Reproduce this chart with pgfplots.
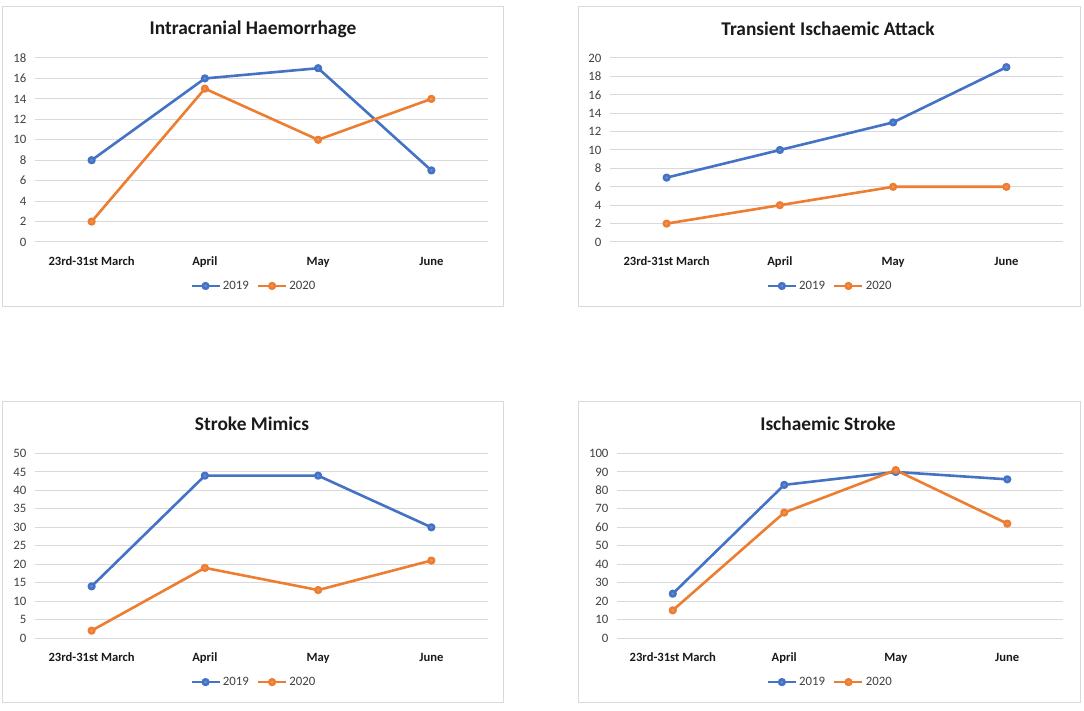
\documentclass[border=0pt]{standalone}
\usepackage{pgfplots}
\pgfplotsset{compat=1.18}
\usepackage{fontspec}
\setmainfont{Carlito}
\definecolor{c19}{HTML}{4472C4}
\definecolor{c20}{HTML}{ED7D31}
\definecolor{gridgray}{HTML}{D9D9D9}
\definecolor{labelc}{HTML}{404040}
\definecolor{titlec}{HTML}{1A1A1A}
\pgfplotsset{
 panel/.style={
  scale only axis, width=453pt, height=184pt,
  xmin=-0.5, xmax=3.5, ymin=0,
  xtick={0,1,2,3}, xticklabels={23rd-31st March, April, May, June},
  axis line style={draw=none}, tick style={draw=none},
  ymajorgrids, major grid style={line width=1pt, color=gridgray},
  xticklabel style={font=\bfseries\fontsize{12.6}{14}\selectfont, text=titlec, yshift=-11pt, text height=9pt, text depth=3pt},
  yticklabel style={font=\fontsize{12.8}{14}\selectfont, text=labelc, xshift=-5pt},
  /pgf/number format/assume math mode=true,
  legend columns=2,
  legend style={draw=none, fill=none, font=\fontsize{12.8}{14}\selectfont, text=labelc, anchor=center,
    /tikz/every even column/.append style={column sep=6pt}},
  legend image code/.code={\draw[##1, mark repeat=2, mark phase=2] plot coordinates {(0pt,0pt) (14pt,0pt) (28pt,0pt)};},
  every axis plot/.append style={line width=2.6pt, line join=round, mark=*, mark size=2.8pt, mark options={line width=0.6pt}},
  clip=false,
 },
 s19/.style={color=c19, mark options={fill=c19!80!white, draw=c19}},
 s20/.style={color=c20, mark options={fill=c20!80!white, draw=c20}},
}
\begin{document}
\begin{tikzpicture}
\path (0pt,0pt) rectangle (1084pt,710pt);
% panel boxes
\draw[gridgray, line width=1pt] (2pt,403pt) rectangle (503pt,703pt);
\draw[gridgray, line width=1pt] (578pt,403pt) rectangle (1080pt,703pt);
\draw[gridgray, line width=1pt] (2pt,8pt) rectangle (503pt,308pt);
\draw[gridgray, line width=1pt] (578pt,8pt) rectangle (1080pt,308pt);
% titles
\node[font=\bfseries\fontsize{19.4}{22}\selectfont, text=titlec] at (253pt,681pt) {Intracranial Haemorrhage};
\node[font=\bfseries\fontsize{19.4}{22}\selectfont, text=titlec] at (828pt,681pt) {Transient Ischaemic Attack};
\node[font=\bfseries\fontsize{19.4}{22}\selectfont, text=titlec] at (252pt,286pt) {Stroke Mimics};
\node[font=\bfseries\fontsize{19.4}{22}\selectfont, text=titlec] at (828pt,286pt) {Ischaemic Stroke};

% Top-left
\begin{axis}[panel, at={(35pt,468pt)}, anchor=south west, ymax=18, ytick={0,2,...,18},
  legend style={at={(rel axis cs:0.483,-0.239)}}]
\addplot[s19] coordinates {(0,8) (1,16) (2,17) (3,7)};
\addplot[s20] coordinates {(0,2) (1,15) (2,10) (3,14)};
\legend{2019,2020}
\end{axis}

% Top-right
\begin{axis}[panel, at={(610pt,468pt)}, anchor=south west, ymax=20, ytick={0,2,...,20},
  legend style={at={(rel axis cs:0.486,-0.239)}}]
\addplot[s19] coordinates {(0,7) (1,10) (2,13) (3,19)};
\addplot[s20] coordinates {(0,2) (1,4) (2,6) (3,6)};
\legend{2019,2020}
\end{axis}

% Bottom-left
\begin{axis}[panel, at={(35pt,72pt)}, anchor=south west, height=184.5pt, ymax=50, ytick={0,5,...,50},
  legend style={at={(rel axis cs:0.483,-0.239)}}]
\addplot[s19] coordinates {(0,14) (1,44) (2,44) (3,30)};
\addplot[s20] coordinates {(0,2) (1,19) (2,13) (3,21)};
\legend{2019,2020}
\end{axis}

% Bottom-right
\begin{axis}[panel, at={(617pt,72pt)}, anchor=south west, width=446pt, height=184.5pt, ymax=100, ytick={0,10,...,100},
  legend style={at={(rel axis cs:0.478,-0.239)}}]
\addplot[s19] coordinates {(0,24) (1,83) (2,90) (3,86)};
\addplot[s20] coordinates {(0,15) (1,68) (2,91) (3,62)};
\legend{2019,2020}
\end{axis}
\end{tikzpicture}
\end{document}
